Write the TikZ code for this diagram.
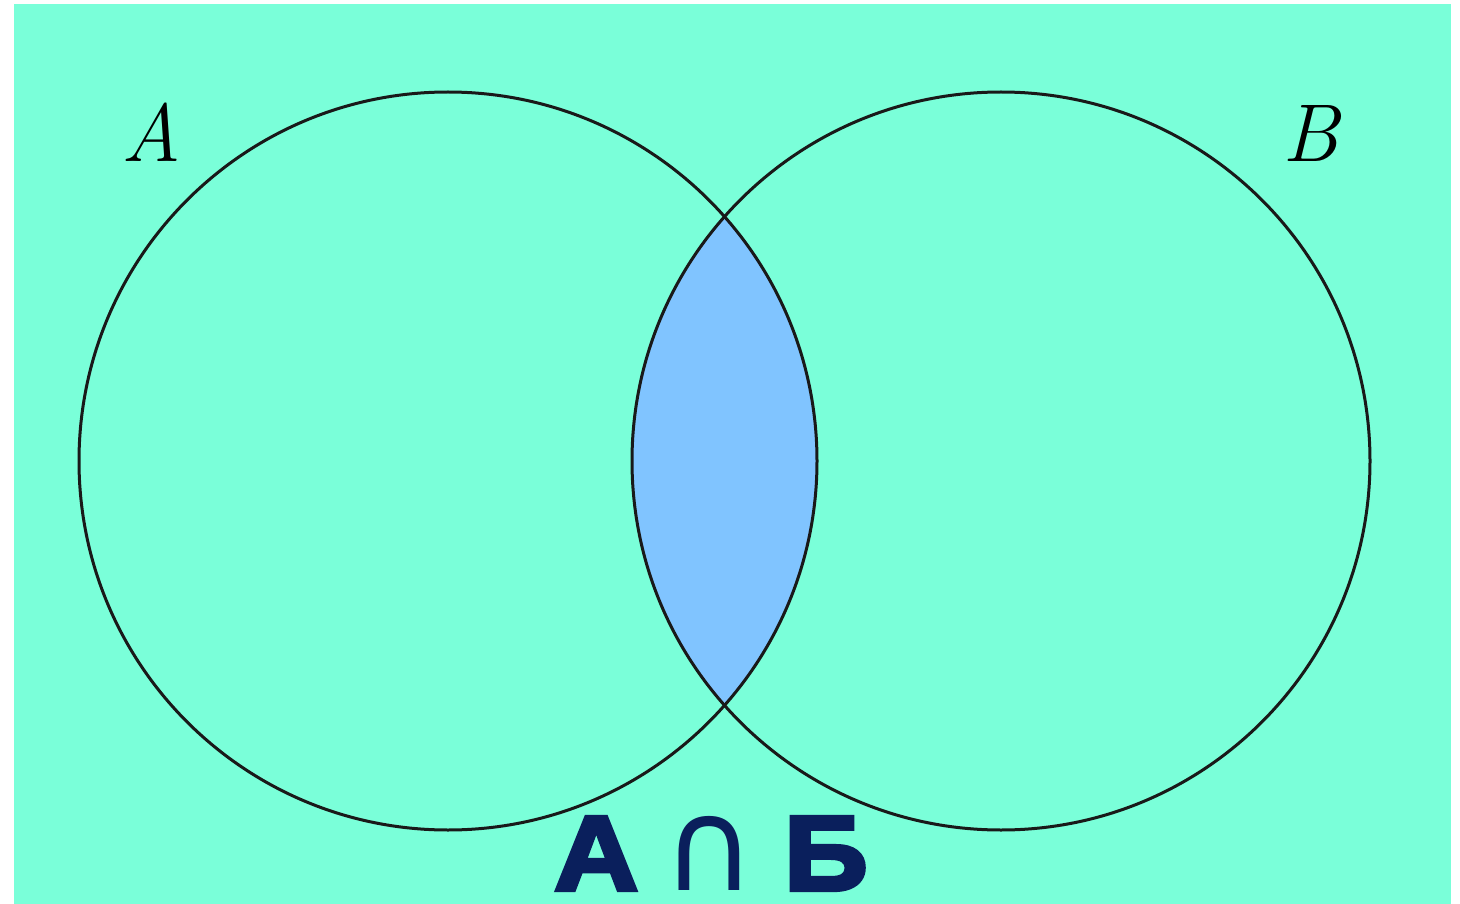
\documentclass[tikz,border=0pt]{standalone}
\usepackage{fontspec}
\newfontfamily\capfont[FakeBold=4,FakeStretch=1.1]{Liberation Sans Bold}
\newfontfamily\symfont{DejaVu Sans}
\definecolor{bgteal}{RGB}{122,255,217}
\definecolor{lensblue}{RGB}{128,196,255}
\definecolor{navy}{RGB}{10,31,92}
\tikzset{
  setcircle/.style={draw=black!90, line width=3pt},
  setlabel/.style={font=\fontsize{82}{90}\selectfont\itshape, inner sep=0pt},
  caption/.style={font=\fontsize{106}{120}\selectfont\capfont, text=navy, inner sep=0pt, text depth=0pt}
}
\begin{document}
\begin{tikzpicture}[x=1pt,y=-1pt]
\useasboundingbox (0,0) rectangle (1460,904);
\fill[white] (0,0) rectangle (1460,904);
\fill[bgteal] (14,4) rectangle (1451,904);
\coordinate (ca) at (448,461);
\coordinate (cb) at (1001,461);
\begin{scope}
  \clip (ca) circle[radius=369];
  \fill[lensblue] (cb) circle[radius=369];
\end{scope}
\draw[setcircle] (ca) circle[radius=369];
\draw[setcircle] (cb) circle[radius=369];
\node[setlabel, anchor=base] (la) at (151,162) {A};
\node[setlabel, anchor=base] (lb) at (1311,162) {B};
\node[caption, anchor=base] (cap) at (711,890) {А\hspace{24pt}{\symfont\fontsize{128}{130}\selectfont ∩}\hspace{28pt}Б};
\end{tikzpicture}
\end{document}
